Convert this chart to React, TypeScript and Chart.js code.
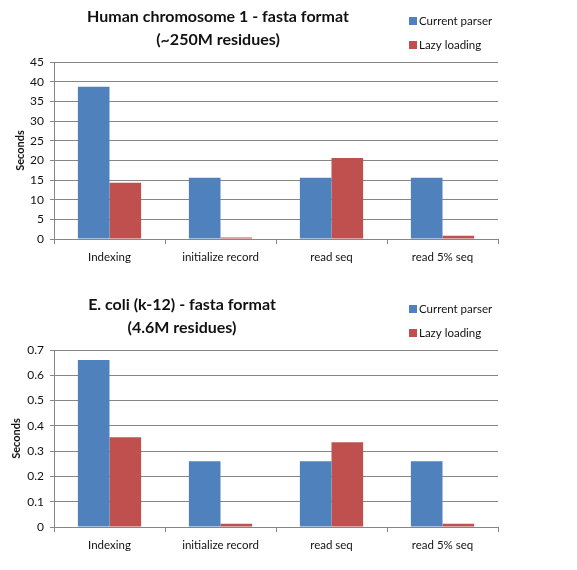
import React, { useEffect, useRef } from "react";
import { Chart, registerables } from "chart.js";

Chart.register(...registerables);

const categories = ["Indexing", "initialize record", "read seq", "read 5% seq"];
const seriesNames = ["Current parser", "Lazy loading"];
const seriesColors = ["#4F81BD", "#C0504D"];

const humanTitle = ["Human chromosome 1 - fasta format", "(~250M residues)"];
const humanCurrent = [38.7, 15.6, 15.6, 15.6];
const humanLazy = [14.3, 0.35, 20.6, 0.85];
const humanMax = 45;
const humanStep = 5;

const ecoliTitle = ["E. coli (k-12) - fasta format", "(4.6M residues)"];
const ecoliCurrent = [0.66, 0.26, 0.26, 0.26];
const ecoliLazy = [0.355, 0.013, 0.335, 0.013];
const ecoliMax = 0.7;
const ecoliStep = 0.1;

const yTitle = "Seconds";

const FONT = "Lato, 'Liberation Sans', sans-serif";
const GRID = "#868686";
const TEXT = "#111";

const headerPlugin = {
  id: "header",
  afterDraw(chart: any, _args: any, opts: any) {
    const ctx = chart.ctx;
    ctx.save();
    ctx.fillStyle = TEXT;
    ctx.font = `bold ${opts.titleSize}px ${FONT}`;
    ctx.textAlign = "center";
    ctx.textBaseline = "middle";
    opts.lines.forEach((l: string, i: number) => ctx.fillText(l, opts.x, opts.y + i * opts.lineGap));
    chart.data.datasets.forEach((ds: any, i: number) => {
      const y = opts.legendY + i * opts.legendGap;
      ctx.fillStyle = ds.backgroundColor;
      ctx.fillRect(opts.legendX, y - 4, 8, 8);
      ctx.fillStyle = TEXT;
      ctx.font = `11.5px ${FONT}`;
      ctx.textAlign = "left";
      ctx.fillText(ds.label, opts.legendX + 10, y);
    });
    ctx.restore();
  },
};

type Props = {
  title: string[];
  current: number[];
  lazy: number[];
  max: number;
  step: number;
  titleX: number;
  yTitlePad: number;
  top: number;
};

function BarChart({ title, current, lazy, max, step, titleX, yTitlePad, top }: Props) {
  const ref = useRef<HTMLCanvasElement | null>(null);
  useEffect(() => {
    if (!ref.current) return;
    const chart = new Chart(ref.current, {
      type: "bar",
      data: {
        labels: categories,
        datasets: [
          { label: seriesNames[0], data: current, backgroundColor: seriesColors[0] },
          { label: seriesNames[1], data: lazy, backgroundColor: seriesColors[1] },
        ],
      },
      plugins: [headerPlugin as any],
      options: {
        responsive: false,
        animation: false,
        devicePixelRatio: 1,
        layout: { padding: { top: 62, right: 79, left: 0, bottom: 0 } },
        datasets: { bar: { categoryPercentage: 0.57, barPercentage: 1.0 } },
        plugins: {
          legend: { display: false },
          title: { display: false },
          tooltip: { enabled: false },
          header: {
            lines: title,
            x: titleX,
            y: 17,
            lineGap: 23,
            titleSize: 16,
            legendX: 409,
            legendY: 21,
            legendGap: 24,
          },
        } as any,
        scales: {
          x: {
            offset: true,
            afterFit: (s: any) => {
              s.height = 46;
            },
            grid: { display: true, drawOnChartArea: false, drawTicks: true, tickLength: 5, color: GRID, offset: true },
            border: { display: true, color: GRID },
            ticks: { color: TEXT, font: { family: FONT, size: 11.5 }, padding: 6, maxRotation: 0 },
          },
          y: {
            min: 0,
            max: max,
            afterFit: (s: any) => {
              s.width = 54;
            },
            ticks: { stepSize: step, color: TEXT, font: { family: FONT, size: 12 }, padding: 6 },
            grid: { color: GRID, tickLength: 4, drawTicks: true },
            border: { display: true, color: GRID },
            title: {
              display: true,
              text: yTitle,
              color: TEXT,
              font: { family: FONT, size: 11, weight: "bold" },
              padding: { top: yTitlePad, bottom: 0 },
            },
          },
        },
      },
    });
    return () => chart.destroy();
  }, []);
  return (
    <div style={{ position: "absolute", left: 0, top, width: 577, height: 285 }}>
      <canvas ref={ref} width={577} height={285} style={{ display: "block" }} />
    </div>
  );
}

export default function App() {
  return (
    <div style={{ position: "absolute", left: 0, top: 0, width: 577, height: 570, background: "#fff" }}>
      <BarChart title={humanTitle} current={humanCurrent} lazy={humanLazy} max={humanMax} step={humanStep} titleX={218} yTitlePad={14} top={0} />
      <BarChart title={ecoliTitle} current={ecoliCurrent} lazy={ecoliLazy} max={ecoliMax} step={ecoliStep} titleX={182} yTitlePad={10} top={288} />
    </div>
  );
}
